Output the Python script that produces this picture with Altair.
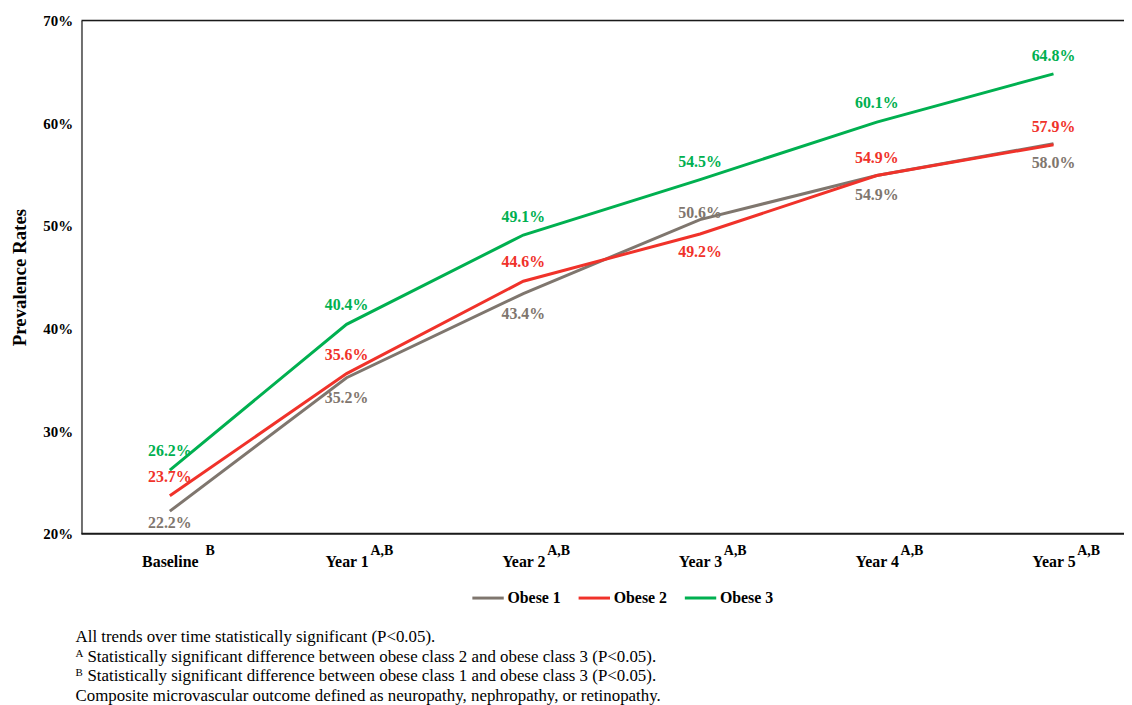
import altair as alt
import pandas as pd

# ---- data ----
categories = ["Baseline", "Year 1", "Year 2", "Year 3", "Year 4", "Year 5"]
superscripts = ["B", "A,B", "A,B", "A,B", "A,B", "A,B"]
series_names = ["Obese 1", "Obese 2", "Obese 3"]
obese1 = [22.2, 35.2, 43.4, 50.6, 54.9, 58.0]
obese2 = [23.7, 35.6, 44.6, 49.2, 54.9, 57.9]
obese3 = [26.2, 40.4, 49.1, 54.5, 60.1, 64.8]
y_ticks = [20, 30, 40, 50, 60, 70]
footnotes = [
    ("", "All trends over time statistically significant (P<0.05)."),
    ("A", "Statistically significant difference between obese class 2 and obese class 3 (P<0.05)."),
    ("B", "Statistically significant difference between obese class 1 and obese class 3 (P<0.05)."),
    ("", "Composite microvascular outcome defined as neuropathy, nephropathy, or retinopathy."),
]

# ---- styling (label offsets in px) ----
label_dy = {
    "Obese 1": [12, 20, 21, -7, 20, 20],
    "Obese 2": [-19, -19, -19, 18, -18, -18],
    "Obese 3": [-19, -19, -18, -18, -19, -18],
}
sup_dx = [36, 24, 24, 24, 24, 24]
colors = ["#7F766E", "#F0322A", "#00B050"]
FONT = "Liberation Serif"

W, H = 1050, 517
STEP = 178
X0 = 89

rows = []
for name, vals in zip(series_names, [obese1, obese2, obese3]):
    for i, (c, v) in enumerate(zip(categories, vals)):
        rows.append({"Year": c, "Series": name, "Rate": v,
                     "label": f"{v:.1f}%", "dy": label_dy[name][i]})
df = pd.DataFrame(rows)

sup_df = pd.DataFrame({"Year": categories, "sup": superscripts, "dx": sup_dx})

x_scale = alt.Scale(type="point", range=[X0, X0 + 5 * STEP], padding=0)
y_scale = alt.Scale(domain=[y_ticks[0], y_ticks[-1]], nice=False, zero=False)

x_enc = alt.X("Year:N", sort=categories, scale=x_scale,
              axis=alt.Axis(title=None, labelAngle=0, labelFont=FONT,
                            labelFontSize=16, labelFontWeight="bold",
                            labelColor="#000", ticks=False, labelPadding=20,
                            domain=False))
y_enc = alt.Y("Rate:Q", scale=y_scale,
              axis=alt.Axis(title="Prevalence Rates", values=y_ticks,
                            labelExpr="datum.value + '%'", labelFont=FONT,
                            labelFontSize=15, labelFontWeight="bold",
                            labelColor="#000", ticks=False, grid=False,
                            labelPadding=9, titleFont=FONT, titleFontSize=19,
                            titleFontWeight="bold", titleColor="#000",
                            titlePadding=13, domainColor="#6E6E6E",
                            domainWidth=2))
color_scale = alt.Scale(domain=series_names, range=colors)

base = alt.Chart(df)

lines = base.mark_line(strokeWidth=3).encode(
    x=x_enc, y=y_enc,
    color=alt.Color("Series:N", scale=color_scale,
                    legend=alt.Legend(title=None, orient="none",
                                      legendX=392, legendY=564,
                                      direction="horizontal",
                                      symbolType="stroke",
                                      symbolStrokeWidth=3, symbolSize=1000,
                                      labelFont=FONT, labelFontSize=16,
                                      labelFontWeight="bold",
                                      labelColor="#000", labelOffset=2,
                                      columnPadding=11)),
)

label_layers = []
for d in sorted(df["dy"].unique()):
    label_layers.append(
        base.transform_filter(alt.datum.dy == int(d)).mark_text(
            dy=int(d), font=FONT, fontSize=16, fontWeight="bold",
            baseline="middle", align="center"
        ).encode(
            x=alt.X("Year:N", sort=categories, scale=x_scale),
            y=alt.Y("Rate:Q", scale=y_scale),
            text="label:N",
            color=alt.Color("Series:N", scale=color_scale, legend=None),
        )
    )

frame = alt.Chart(pd.DataFrame({"v": [y_ticks[0], y_ticks[-1]],
                                "w": [2.0, 1.5]})).mark_rule(
    color="#1A1A1A"
).encode(y=alt.Y("v:Q", scale=y_scale),
         x=alt.value(0), x2=alt.value(W),
         strokeWidth=alt.StrokeWidth("w:Q", scale=None, legend=None))

sup_layers = []
for dxv in sorted(sup_df["dx"].unique()):
    sup_layers.append(
        alt.Chart(sup_df).transform_filter(alt.datum.dx == int(dxv)).mark_text(
            dx=int(dxv), font=FONT, fontSize=14, fontWeight="bold",
            align="left", baseline="middle", color="#000"
        ).encode(
            x=alt.X("Year:N", sort=categories, scale=x_scale),
            y=alt.value(H + 17),
            text="sup:N",
        )
    )

foot_layers = []
for i, (sup, txt) in enumerate(footnotes):
    fdf = pd.DataFrame({"sup": [sup], "txt": [txt]})
    yv = 621 + i * 19.7
    if sup:
        foot_layers.append(alt.Chart(fdf).mark_text(
            font=FONT, fontSize=11, align="left", baseline="middle",
            color="#000", dy=-3
        ).encode(x=alt.value(-6), y=alt.value(yv), text="sup:N"))
        foot_layers.append(alt.Chart(fdf).mark_text(
            font=FONT, fontSize=17, align="left", baseline="middle",
            color="#000"
        ).encode(x=alt.value(6), y=alt.value(yv), text="txt:N"))
    else:
        foot_layers.append(alt.Chart(fdf).mark_text(
            font=FONT, fontSize=17, align="left", baseline="middle",
            color="#000"
        ).encode(x=alt.value(-6), y=alt.value(yv), text="txt:N"))

chart = alt.layer(
    frame, lines, *label_layers, *sup_layers, *foot_layers
).properties(
    width=W, height=H,
    autosize=alt.AutoSizeParams(type="none"),
    padding={"left": 74, "top": 10, "right": 0, "bottom": 180},
).configure_view(stroke=None).configure(background="white")

chart.save("out.html", embed_options={"renderer": "svg", "actions": False})
